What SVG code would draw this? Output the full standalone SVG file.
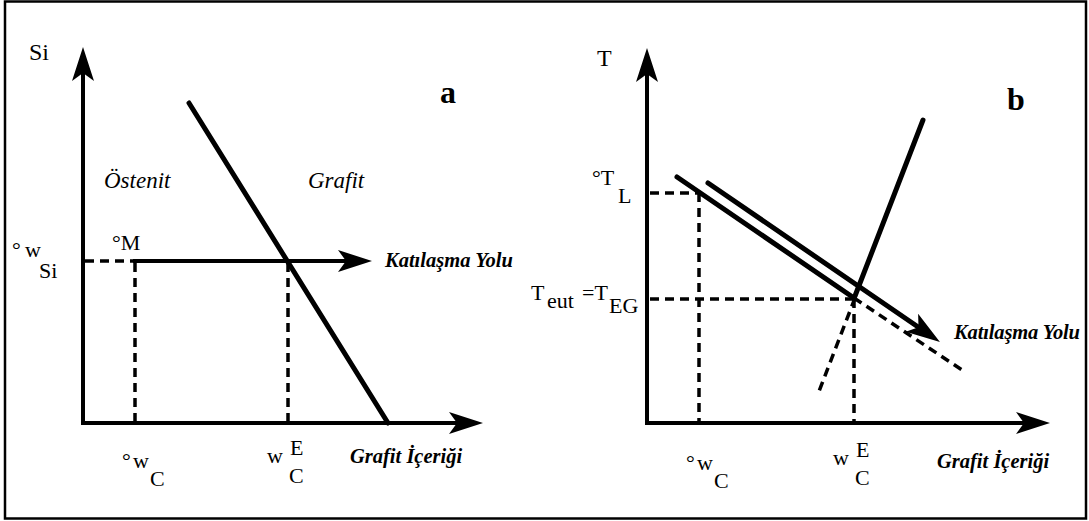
<svg xmlns="http://www.w3.org/2000/svg" width="1089" height="521" viewBox="0 0 1089 521">
<style>
text{fill:#000}
.lbl{font-size:22px}
.ax{font-size:24px}
.big{font-size:32px;font-weight:bold}
.it{font-size:23px;font-style:italic}
.bi{font-size:20.5px;font-style:italic;font-weight:bold}
.axis{stroke:#000;stroke-width:4;fill:none}
.thick{stroke:#000;stroke-width:5;fill:none;stroke-linecap:round}
.dash{stroke:#000;stroke-width:3.5;fill:none;stroke-dasharray:9 6}
</style>
<defs>
<marker id="arr" markerUnits="userSpaceOnUse" markerWidth="40" markerHeight="30" viewBox="-2 -13 40 26" refX="8" refY="0" orient="auto" overflow="visible">
<path d="M0,-11 L34,0 L0,11 L8,0 Z" fill="#000"/>
</marker>
</defs>
<rect x="5" y="1.5" width="1081" height="517" fill="#fff" stroke="#000" stroke-width="2.5"/>
<g id="panel-a" font-family="Liberation Serif, Times New Roman, DejaVu Serif, serif">
<text class="ax" x="29" y="60">Si</text>
<text class="big" x="440" y="103">a</text>
<text class="it" x="104" y="188">Östenit</text>
<text class="it" x="308" y="188">Grafit</text>
<text class="lbl" x="112" y="250">°M</text>
<text class="lbl" x="12" y="257" textLength="29" lengthAdjust="spacing">°w</text>
<text class="lbl" x="39" y="278">Si</text>
<text class="bi" x="385" y="267">Katılaşma Yolu</text>
<text class="lbl" x="122" y="468" textLength="27" lengthAdjust="spacing">°w</text>
<text class="lbl" x="150" y="486">C</text>
<text class="lbl" x="267" y="463">w</text>
<text class="lbl" x="290" y="455">E</text>
<text class="lbl" x="289" y="483">C</text>
<text class="bi" x="350" y="463">Grafit İçeriği</text>
</g>
<g id="panel-b" font-family="Liberation Serif, Times New Roman, DejaVu Serif, serif">
<text class="ax" x="597" y="66">T</text>
<text class="big" x="1007" y="110">b</text>
<text class="lbl" x="592" y="185">°T</text>
<text class="lbl" x="618" y="203">L</text>
<text class="lbl" x="531" y="300">T</text>
<text class="lbl" x="547" y="308">eut</text>
<text class="lbl" x="582" y="300">=T</text>
<text class="lbl" x="609" y="313">EG</text>
<text class="bi" x="954" y="339" textLength="126">Katılaşma Yolu</text>
<text class="lbl" x="686" y="470" textLength="27" lengthAdjust="spacing">°w</text>
<text class="lbl" x="714" y="488">C</text>
<text class="lbl" x="833" y="465">w</text>
<text class="lbl" x="856" y="457">E</text>
<text class="lbl" x="855" y="485">C</text>
<text class="bi" x="937" y="468">Grafit İçeriği</text>
</g>
<g id="connectors">
<line class="axis" x1="83" y1="425" x2="83" y2="73" marker-end="url(#arr)"/>
<line class="axis" x1="81" y1="423" x2="457" y2="423" marker-end="url(#arr)"/>
<line class="dash" x1="85" y1="261" x2="133" y2="261"/>
<line class="axis" x1="133" y1="261" x2="346" y2="261" marker-end="url(#arr)"/>
<line class="dash" x1="135" y1="263" x2="135" y2="421"/>
<line class="dash" x1="288" y1="263" x2="288" y2="421"/>
<line class="thick" x1="189" y1="103" x2="388" y2="423"/>
<line class="axis" x1="647" y1="425" x2="647" y2="74" marker-end="url(#arr)"/>
<line class="axis" x1="645" y1="423" x2="1024" y2="423" marker-end="url(#arr)"/>
<line class="dash" x1="650" y1="193" x2="699" y2="193"/>
<line class="dash" x1="699" y1="193" x2="699" y2="421"/>
<line class="dash" x1="650" y1="299" x2="854" y2="299"/>
<line class="dash" x1="854" y1="299" x2="854" y2="421"/>
<line class="thick" x1="677" y1="177" x2="854" y2="298"/>
<line class="dash" x1="854" y1="298" x2="965" y2="372"/>
<line class="thick" x1="708" y1="183" x2="918.5" y2="327.3" marker-end="url(#arr)"/>
<line class="thick" x1="923" y1="120" x2="855" y2="296"/>
<line class="dash" x1="855" y1="298" x2="818" y2="394"/>
</g>
</svg>
